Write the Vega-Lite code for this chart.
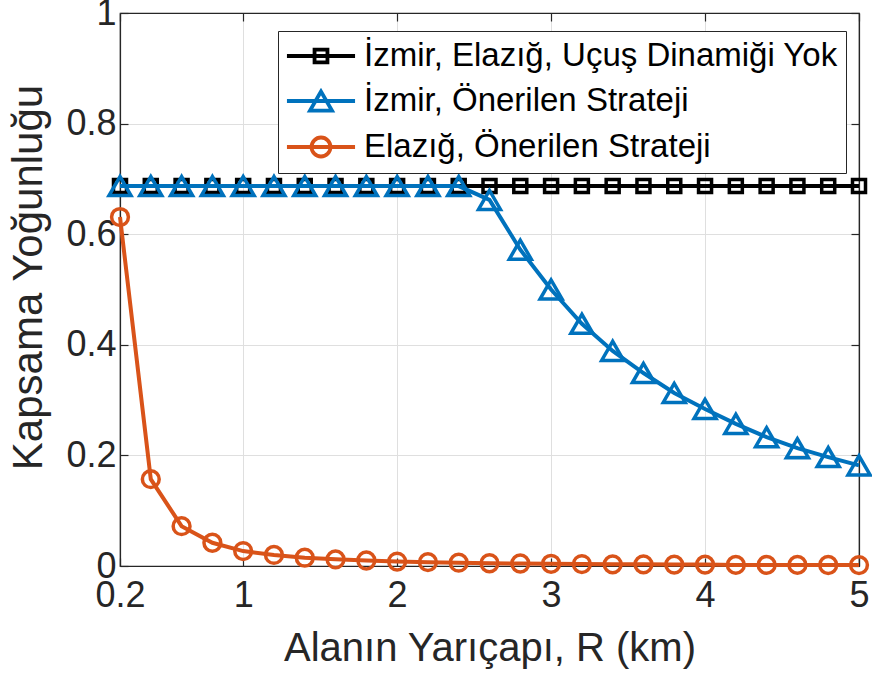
{
"$schema":"https://vega.github.io/schema/vega-lite/v6.json",
"width":739,"height":553,
"autosize":{"type":"none"},
"padding":{"left":120,"top":13,"right":13,"bottom":118},
"background":"white",
"config":{
  "font":"Liberation Sans",
  "view":{"stroke":"#262626","strokeWidth":1.2},
  "axis":{"labelFontSize":36,"labelColor":"#262626","titleFontSize":40,"titleFontWeight":"normal","titleColor":"#262626","domainColor":"#262626","domainWidth":1.2,"tickColor":"#262626","tickWidth":1.2,"tickSize":-8,"gridColor":"#dfdfdf","gridWidth":1,"labelFlush":false,"labelOverlap":false}
},
"data":{"values":[
{"s":"İzmir, Elazığ, Uçuş Dinamiği Yok","r":0.2,"v":0.687},{"s":"İzmir, Elazığ, Uçuş Dinamiği Yok","r":0.4,"v":0.687},{"s":"İzmir, Elazığ, Uçuş Dinamiği Yok","r":0.6,"v":0.687},{"s":"İzmir, Elazığ, Uçuş Dinamiği Yok","r":0.8,"v":0.687},{"s":"İzmir, Elazığ, Uçuş Dinamiği Yok","r":1.0,"v":0.687},
{"s":"İzmir, Elazığ, Uçuş Dinamiği Yok","r":1.2,"v":0.687},{"s":"İzmir, Elazığ, Uçuş Dinamiği Yok","r":1.4,"v":0.687},{"s":"İzmir, Elazığ, Uçuş Dinamiği Yok","r":1.6,"v":0.687},{"s":"İzmir, Elazığ, Uçuş Dinamiği Yok","r":1.8,"v":0.687},{"s":"İzmir, Elazığ, Uçuş Dinamiği Yok","r":2.0,"v":0.687},
{"s":"İzmir, Elazığ, Uçuş Dinamiği Yok","r":2.2,"v":0.687},{"s":"İzmir, Elazığ, Uçuş Dinamiği Yok","r":2.4,"v":0.687},{"s":"İzmir, Elazığ, Uçuş Dinamiği Yok","r":2.6,"v":0.687},{"s":"İzmir, Elazığ, Uçuş Dinamiği Yok","r":2.8,"v":0.687},{"s":"İzmir, Elazığ, Uçuş Dinamiği Yok","r":3.0,"v":0.687},
{"s":"İzmir, Elazığ, Uçuş Dinamiği Yok","r":3.2,"v":0.687},{"s":"İzmir, Elazığ, Uçuş Dinamiği Yok","r":3.4,"v":0.687},{"s":"İzmir, Elazığ, Uçuş Dinamiği Yok","r":3.6,"v":0.687},{"s":"İzmir, Elazığ, Uçuş Dinamiği Yok","r":3.8,"v":0.687},{"s":"İzmir, Elazığ, Uçuş Dinamiği Yok","r":4.0,"v":0.687},
{"s":"İzmir, Elazığ, Uçuş Dinamiği Yok","r":4.2,"v":0.687},{"s":"İzmir, Elazığ, Uçuş Dinamiği Yok","r":4.4,"v":0.687},{"s":"İzmir, Elazığ, Uçuş Dinamiği Yok","r":4.6,"v":0.687},{"s":"İzmir, Elazığ, Uçuş Dinamiği Yok","r":4.8,"v":0.687},{"s":"İzmir, Elazığ, Uçuş Dinamiği Yok","r":5.0,"v":0.687},
{"s":"İzmir, Önerilen Strateji","r":0.2,"v":0.687},{"s":"İzmir, Önerilen Strateji","r":0.4,"v":0.687},{"s":"İzmir, Önerilen Strateji","r":0.6,"v":0.687},{"s":"İzmir, Önerilen Strateji","r":0.8,"v":0.687},{"s":"İzmir, Önerilen Strateji","r":1.0,"v":0.687},
{"s":"İzmir, Önerilen Strateji","r":1.2,"v":0.687},{"s":"İzmir, Önerilen Strateji","r":1.4,"v":0.687},{"s":"İzmir, Önerilen Strateji","r":1.6,"v":0.687},{"s":"İzmir, Önerilen Strateji","r":1.8,"v":0.687},{"s":"İzmir, Önerilen Strateji","r":2.0,"v":0.687},
{"s":"İzmir, Önerilen Strateji","r":2.2,"v":0.687},{"s":"İzmir, Önerilen Strateji","r":2.4,"v":0.687},{"s":"İzmir, Önerilen Strateji","r":2.6,"v":0.662},{"s":"İzmir, Önerilen Strateji","r":2.8,"v":0.572},{"s":"İzmir, Önerilen Strateji","r":3.0,"v":0.5},
{"s":"İzmir, Önerilen Strateji","r":3.2,"v":0.438},{"s":"İzmir, Önerilen Strateji","r":3.4,"v":0.389},{"s":"İzmir, Önerilen Strateji","r":3.6,"v":0.349},{"s":"İzmir, Önerilen Strateji","r":3.8,"v":0.313},{"s":"İzmir, Önerilen Strateji","r":4.0,"v":0.284},
{"s":"İzmir, Önerilen Strateji","r":4.2,"v":0.257},{"s":"İzmir, Önerilen Strateji","r":4.4,"v":0.233},{"s":"İzmir, Önerilen Strateji","r":4.6,"v":0.213},{"s":"İzmir, Önerilen Strateji","r":4.8,"v":0.197},{"s":"İzmir, Önerilen Strateji","r":5.0,"v":0.182},
{"s":"Elazığ, Önerilen Strateji","r":0.2,"v":0.631},{"s":"Elazığ, Önerilen Strateji","r":0.4,"v":0.157},{"s":"Elazığ, Önerilen Strateji","r":0.6,"v":0.072},{"s":"Elazığ, Önerilen Strateji","r":0.8,"v":0.042},{"s":"Elazığ, Önerilen Strateji","r":1.0,"v":0.027},
{"s":"Elazığ, Önerilen Strateji","r":1.2,"v":0.02},{"s":"Elazığ, Önerilen Strateji","r":1.4,"v":0.015},{"s":"Elazığ, Önerilen Strateji","r":1.6,"v":0.012},{"s":"Elazığ, Önerilen Strateji","r":1.8,"v":0.01},{"s":"Elazığ, Önerilen Strateji","r":2.0,"v":0.008},
{"s":"Elazığ, Önerilen Strateji","r":2.2,"v":0.007},{"s":"Elazığ, Önerilen Strateji","r":2.4,"v":0.006},{"s":"Elazığ, Önerilen Strateji","r":2.6,"v":0.005},{"s":"Elazığ, Önerilen Strateji","r":2.8,"v":0.0045},{"s":"Elazığ, Önerilen Strateji","r":3.0,"v":0.004},
{"s":"Elazığ, Önerilen Strateji","r":3.2,"v":0.0035},{"s":"Elazığ, Önerilen Strateji","r":3.4,"v":0.003},{"s":"Elazığ, Önerilen Strateji","r":3.6,"v":0.003},{"s":"Elazığ, Önerilen Strateji","r":3.8,"v":0.0025},{"s":"Elazığ, Önerilen Strateji","r":4.0,"v":0.0025},
{"s":"Elazığ, Önerilen Strateji","r":4.2,"v":0.002},{"s":"Elazığ, Önerilen Strateji","r":4.4,"v":0.002},{"s":"Elazığ, Önerilen Strateji","r":4.6,"v":0.002},{"s":"Elazığ, Önerilen Strateji","r":4.8,"v":0.0018},{"s":"Elazığ, Önerilen Strateji","r":5.0,"v":0.0016}
]},
"encoding":{
  "color":{"field":"s","type":"nominal",
    "scale":{"domain":["İzmir, Elazığ, Uçuş Dinamiği Yok","İzmir, Önerilen Strateji","Elazığ, Önerilen Strateji"],"range":["#000000","#0072BD","#D95319"]},
    "legend":{"orient":"none","legendX":158,"legendY":18,"title":null,"fillColor":"white","strokeColor":"#262626","padding":8,
      "symbolSize":900,"symbolStrokeWidth":3.8,"symbolOffset":18,"labelOffset":26,"labelFontSize":33,"labelColor":"#000000","labelLimit":0,"rowPadding":10,
      "encode":{"symbols":{"update":{"fill":{"value":"transparent"},"shape":{"signal":"datum.value === 'İzmir, Elazığ, Uçuş Dinamiği Yok' ? 'M-2.27,0H2.27M-0.43,-0.43H0.43V0.43H-0.43Z' : datum.value === 'İzmir, Önerilen Strateji' ? 'M-2.27,0H2.27M0,-0.635L-0.733,0.635L0.733,0.635Z' : 'M-2.27,0H2.27M-0.633,0A0.633,0.633,0,1,1,0.633,0A0.633,0.633,0,1,1,-0.633,0Z'"}}}}}
  }
},
"layer":[
  {"transform":[{"filter":{"field":"s","equal":"İzmir, Elazığ, Uçuş Dinamiği Yok"}}],
   "mark":{"type":"line","strokeWidth":4},
   "encoding":{
     "x":{"field":"r","type":"quantitative","scale":{"domain":[0.2,5],"nice":false,"zero":false},
       "axis":{"values":[0.2,1,2,3,4,5],"labelExpr":"'' + datum.value","labelPadding":20,"title":"Alanın Yarıçapı, R (km)","titlePadding":15,"grid":true}},
     "y":{"field":"v","type":"quantitative","scale":{"domain":[0,1],"nice":false,"zero":false},
       "axis":{"values":[0,0.2,0.4,0.6,0.8,1],"labelExpr":"'' + datum.value","labelPadding":12,"title":"Kapsama Yoğunluğu","titleFontSize":42,"titleY":264,"titleX":-70,"titleBaseline":"bottom","titleAngle":-90,"grid":true}}}},
  {"transform":[{"filter":{"field":"s","equal":"İzmir, Elazığ, Uçuş Dinamiği Yok"}}],
   "mark":{"type":"point","shape":"square","size":169,"strokeWidth":3.5,"filled":false,"opacity":1},
   "encoding":{"x":{"field":"r","type":"quantitative","axis":null},"y":{"field":"v","type":"quantitative","axis":null}}},
  {"transform":[{"filter":{"field":"s","equal":"İzmir, Önerilen Strateji"}}],
   "mark":{"type":"line","strokeWidth":4},
   "encoding":{"x":{"field":"r","type":"quantitative","axis":null},"y":{"field":"v","type":"quantitative","axis":null}}},
  {"transform":[{"filter":{"field":"s","equal":"İzmir, Önerilen Strateji"}}],
   "mark":{"type":"point","shape":"triangle-up","size":484,"strokeWidth":3.5,"filled":false,"opacity":1},
   "encoding":{"x":{"field":"r","type":"quantitative","axis":null},"y":{"field":"v","type":"quantitative","axis":null}}},
  {"transform":[{"filter":{"field":"s","equal":"Elazığ, Önerilen Strateji"}}],
   "mark":{"type":"line","strokeWidth":4},
   "encoding":{"x":{"field":"r","type":"quantitative","axis":null},"y":{"field":"v","type":"quantitative","axis":null}}},
  {"transform":[{"filter":{"field":"s","equal":"Elazığ, Önerilen Strateji"}}],
   "mark":{"type":"point","shape":"circle","size":283,"strokeWidth":3.5,"filled":false,"opacity":1},
   "encoding":{
     "x":{"field":"r","type":"quantitative","axis":{"orient":"top","values":[0.2,1,2,3,4,5],"labels":false,"title":null,"grid":false}},
     "y":{"field":"v","type":"quantitative","axis":{"orient":"right","values":[0,0.2,0.4,0.6,0.8,1],"labels":false,"title":null,"grid":false}}}}
],
"resolve":{"axis":{"x":"independent","y":"independent"}}
}
